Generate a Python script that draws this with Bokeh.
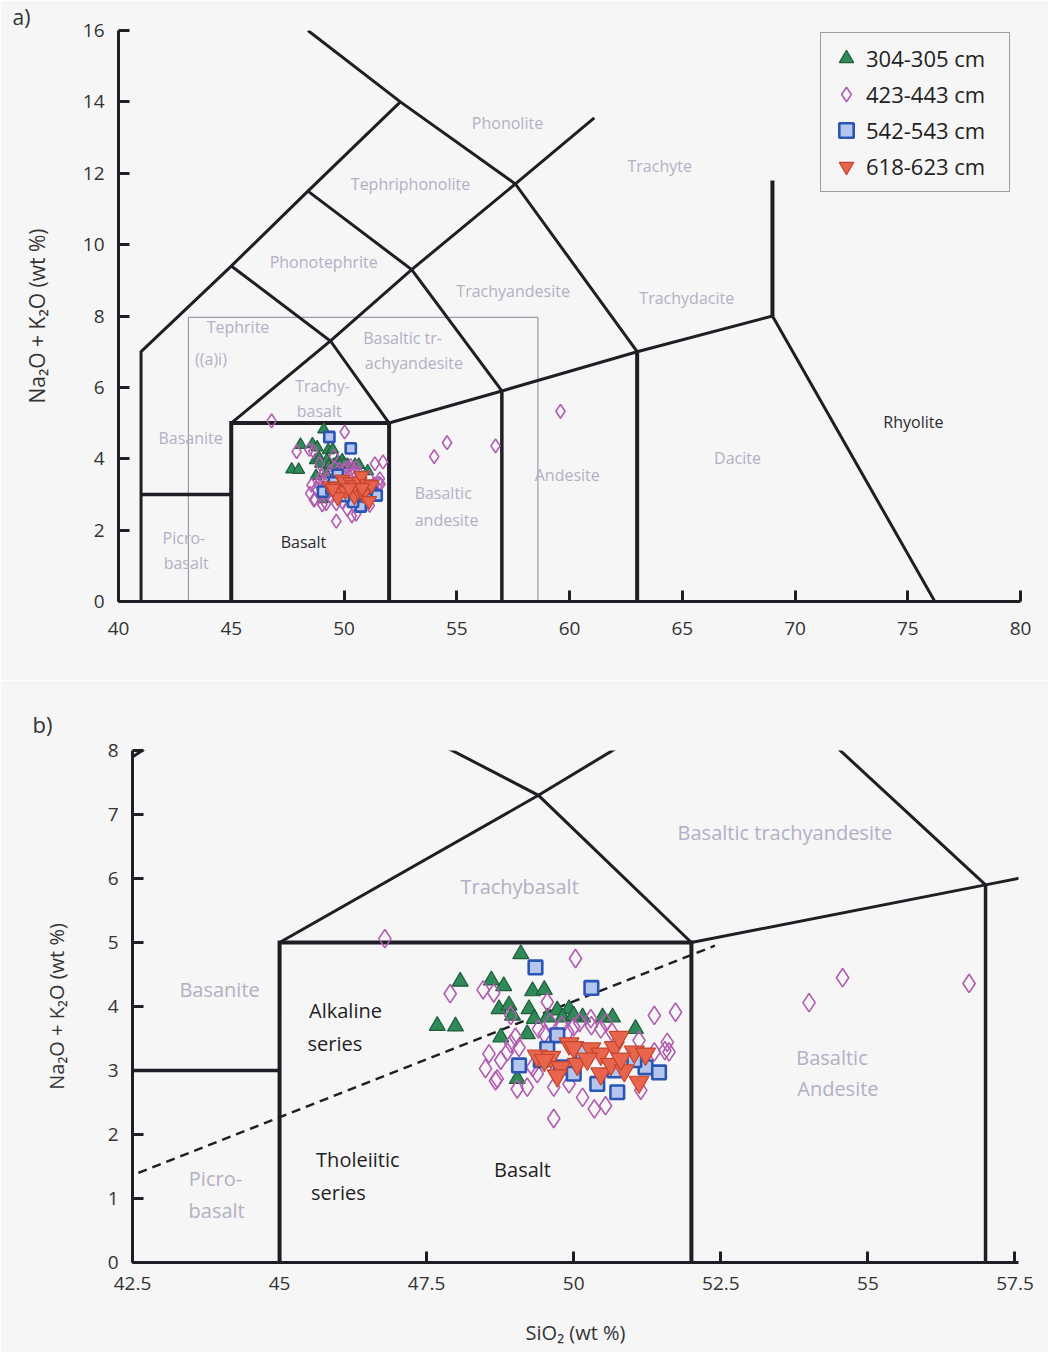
from bokeh.plotting import figure
from bokeh.models import Legend, LegendItem, Title, FixedTicker, ColumnDataSource
from bokeh.core.properties import value
from bokeh.embed import file_html
from bokeh.resources import INLINE

FONT = "Open Sans"
BG = "#f6f6f6"
INK = "#1e1e24"
FIELD_GREY = "#b2b0c4"

# ---- tephra glass analyses: SiO2 and Na2O+K2O (wt %) ----
g304_sio2 = [49.10, 48.07, 48.60, 48.81, 49.30, 49.50, 47.68, 47.99, 48.73, 48.90,
             49.24, 48.76, 48.96, 49.72, 49.92, 49.81, 50.15, 50.49, 50.66, 51.05,
             49.33, 49.21, 49.04, 49.55, 50.00]
g304_alk = [4.82, 4.39, 4.41, 4.32, 4.24, 4.26, 3.70, 3.69, 3.96, 4.02,
            3.96, 3.52, 3.86, 3.94, 3.96, 3.83, 3.83, 3.83, 3.83, 3.65,
            3.81, 3.57, 2.87, 3.83, 3.86]

g423_sio2 = [46.79, 50.03, 47.90, 48.46, 48.64, 49.55, 51.37, 51.73, 48.93, 51.59,
             51.62, 51.37, 51.11, 48.56, 48.76, 48.50, 48.70, 49.01, 49.07, 48.87,
             49.04, 49.21, 49.66, 49.92, 50.15, 50.35, 49.66, 51.14, 50.29, 49.50,
             50.00, 50.46, 49.38, 49.30, 48.93, 48.67, 50.54, 51.55, 49.60, 49.80,
             50.10, 50.30, 50.55, 49.40, 49.90, 50.65, 54.00, 54.57, 56.72, 59.60]
g423_alk = [5.06, 4.75, 4.20, 4.26, 4.21, 4.07, 3.86, 3.91, 3.86, 3.44,
            3.29, 3.29, 3.47, 3.26, 3.16, 3.03, 2.87, 3.52, 3.36, 3.29,
            2.71, 2.74, 2.74, 2.79, 2.58, 2.40, 2.25, 2.69, 3.81, 3.57,
            3.68, 3.65, 2.95, 3.05, 3.42, 2.84, 2.45, 3.31, 3.75, 3.70,
            3.75, 3.70, 3.75, 3.65, 3.60, 3.60, 4.06, 4.45, 4.36, 5.33]

g542_sio2 = [49.35, 50.30, 49.07, 49.72, 49.55, 50.15, 50.74, 50.40, 51.22, 51.45,
             49.78, 50.69, 51.03, 50.00, 49.44]
g542_alk = [4.61, 4.29, 3.08, 3.55, 3.34, 3.29, 2.66, 2.79, 3.05, 2.97,
            3.05, 3.00, 3.16, 2.95, 3.16]

g618_sio2 = [49.38, 49.61, 49.92, 50.00, 50.29, 50.46, 50.69, 50.77, 51.03, 51.22,
             49.78, 50.06, 50.46, 50.63, 50.86, 51.11, 49.72, 50.80, 50.23, 49.50]
g618_alk = [3.23, 3.21, 3.42, 3.36, 3.34, 3.26, 3.36, 3.52, 3.29, 3.26,
            3.05, 3.10, 2.95, 3.10, 3.00, 2.82, 2.92, 3.18, 3.18, 3.16]

group_labels = ["304-305 cm", "423-443 cm", "542-543 cm", "618-623 cm"]

# ---- TAS field boundaries (Le Bas et al. 1986) ----
tas_xs = [
    [41, 41, 45, 48.4, 52.5],
    [41, 45],
    [48.4, 52.5, 57.6, 63],
    [45, 49.4, 52],
    [48.4, 53, 57],
    [45, 49.4, 53, 57.6, 61.1],
    [52, 57, 63, 69, 76.2],
    [45, 45, 52, 52],
    [57, 57],
    [63, 63],
    [69, 69],
]
tas_ys = [
    [0, 7, 9.4, 11.5, 14],
    [3, 3],
    [16, 14, 11.7, 7],
    [9.4, 7.3, 5],
    [11.5, 9.3, 5.9],
    [5, 7.3, 9.3, 11.7, 13.55],
    [5, 5.9, 7, 8, 0],
    [0, 5, 5, 0],
    [0, 5.9],
    [0, 7],
    [8, 11.8],
]
tas_widths = [3, 3.5, 3, 3, 3, 3, 3, 4, 3.5, 4, 4]

# alkaline / sub-alkaline divide
divide_x = [42.6, 52.4]
divide_y = [1.40, 4.95]

# extent of the enlarged panel
inset_x = [43.1, 43.1, 58.6, 58.6]
inset_y = [0, 7.96, 7.96, 0]

# field names, panel a
a_grey_names = ["Phonolite", "Trachyte", "Tephriphonolite", "Phonotephrite",
                "Trachyandesite", "Trachydacite", "Tephrite", "((a)i)",
                "Basaltic tr-", "achyandesite", "Trachy-", "basalt", "Basanite",
                "Basaltic", "andesite", "Andesite", "Dacite", "Picro-", "basalt"]
a_grey_x = [57.25, 64.0, 52.95, 49.1, 57.5, 65.2, 45.3, 44.1,
            52.6, 53.1, 49.05, 48.9, 43.2,
            54.4, 54.55, 59.9, 67.45, 42.9, 43.0]
a_grey_y = [13.4, 12.2, 11.7, 9.5, 8.7, 8.5, 7.7, 6.8,
            7.37, 6.68, 6.03, 5.33, 4.58,
            3.04, 2.29, 3.55, 4.02, 1.79, 1.09]
a_dark_names = ["Rhyolite", "Basalt"]
a_dark_x = [75.25, 48.2]
a_dark_y = [5.03, 1.68]

# field names, panel b
b_grey_names = ["Basaltic trachyandesite", "Trachybasalt", "Basanite",
                "Basaltic", "Andesite", "Picro-", "basalt"]
b_grey_x = [53.59, 49.08, 43.98, 54.39, 54.49, 43.91, 43.93]
b_grey_y = [6.72, 5.875, 4.27, 3.20, 2.72, 1.31, 0.81]
b_dark_names = ["Alkaline", "series", "Tholeiitic", "series", "Basalt"]
b_dark_x = [46.12, 45.94, 46.33, 46.0, 49.13]
b_dark_y = [3.94, 3.42, 1.61, 1.09, 1.45]


def style(p, xticks, yticks, xstand, ystand, ylabel_size, ylabel_stand):
    p.background_fill_color = BG
    p.border_fill_color = BG
    p.outline_line_color = None
    p.grid.visible = False
    for ax in (p.xaxis[0], p.yaxis[0]):
        ax.axis_line_width = 3
        ax.axis_line_color = INK
        ax.major_tick_line_width = 3
        ax.major_tick_line_color = INK
        ax.major_tick_in = 11
        ax.major_tick_out = 0
        ax.minor_tick_line_color = None
        ax.major_label_text_font = FONT
        ax.major_label_text_font_size = "19px"
        ax.major_label_text_color = "#333333"
        ax.axis_label_text_font = FONT
        ax.axis_label_text_font_size = "20px"
        ax.axis_label_text_font_style = "normal"
        ax.axis_label_text_color = "#333333"
    p.xaxis[0].ticker = FixedTicker(ticks=xticks)
    p.yaxis[0].ticker = FixedTicker(ticks=yticks)
    p.xaxis[0].major_label_standoff = xstand
    p.yaxis[0].major_label_standoff = ystand
    p.yaxis[0].axis_label = "Na\u2082O + K\u2082O (wt %)"
    p.yaxis[0].axis_label_text_font_size = ylabel_size
    p.yaxis[0].axis_label_standoff = ylabel_stand


def panel_tag(p, text, shift, size, gap):
    p.add_layout(Title(text=text, align="left", offset=shift, standoff=gap,
                       text_font=FONT, text_font_size=size,
                       text_font_style="normal", text_color="#333333"),
                 "above")


def field_text(p, names, xs, ys, color, size):
    src = ColumnDataSource(dict(x=xs, y=ys, t=names))
    p.text("x", "y", text="t", source=src, text_font=value(FONT),
           text_font_size=size, text_color=color, text_align="center",
           text_baseline="middle")


def samples(p, s):
    r1 = p.scatter(g304_sio2, g304_alk, marker="triangle", size=s * 1.0,
                   fill_color="#2f8a57", line_color="#1e5c3a", line_width=1.2)
    r2 = p.scatter(g423_sio2, g423_alk, marker="diamond", size=s * 1.15,
                   fill_color=None, line_color="#b25cb0", line_width=1.6)
    r3 = p.scatter(g542_sio2, g542_alk, marker="square", size=s * 0.85,
                   fill_color="#b4c6ee", line_color="#2a55b4", line_width=2.6)
    r4 = p.scatter(g618_sio2, g618_alk, marker="inverted_triangle", size=s * 1.25,
                   fill_color="#e8644c", line_color="#c4442e", line_width=1.2)
    return [r1, r2, r3, r4]


# ---------------- panel a: full TAS diagram ----------------
pa = figure(width=1048, height=680, x_range=(40, 80), y_range=(0, 16),
            output_backend="svg", toolbar_location=None,
            min_border_left=118, min_border_right=28,
            min_border_top=28, min_border_bottom=79)
style(pa, [40, 45, 50, 55, 60, 65, 70, 75, 80], list(range(0, 17, 2)),
      20, 14, "21px", 29)

pa.line(inset_x, inset_y, line_color="#9a9aaa", line_width=1.2)
pa.multi_line(tas_xs, tas_ys, line_color=INK, line_width=tas_widths,
              line_join="miter")
field_text(pa, a_grey_names, a_grey_x, a_grey_y, FIELD_GREY, "16px")
field_text(pa, a_dark_names, a_dark_x, a_dark_y, "#2a2a30", "16px")
rs = samples(pa, 12)

# legend box pinned near the upper right corner of the frame
legend = Legend(items=[LegendItem(label=lab, renderers=[r])
                       for lab, r in zip(group_labels, rs)],
                location=(702, 409), margin=0, padding=7, spacing=0,
                label_height=36, glyph_height=36, glyph_width=36,
                label_width=136, label_standoff=2,
                label_text_font=FONT, label_text_font_size="22px",
                label_text_color="#222222",
                border_line_color="#444444", border_line_width=1.5,
                background_fill_color=BG, background_fill_alpha=1.0)
pa.add_layout(legend)
panel_tag(pa, "a)", -106, "21px", 0)

# ---------------- panel b: enlarged basalt region ----------------
pb = figure(width=1048, height=672, x_range=(42.5, 57.56), y_range=(0, 8),
            output_backend="svg", toolbar_location=None,
            min_border_left=132, min_border_right=30,
            min_border_top=70, min_border_bottom=90)
style(pb, [42.5, 45, 47.5, 50, 52.5, 55, 57.5], list(range(0, 9)),
      14, 14, "20px", 35)
pb.xaxis[0].major_label_overrides = {42.5: "42.5", 45: "45", 47.5: "47.5",
                                     50: "50", 52.5: "52.5", 55: "55",
                                     57.5: "57.5"}
pb.xaxis[0].axis_label = "SiO\u2082 (wt %)"
pb.xaxis[0].axis_label_standoff = 26

pb.multi_line(tas_xs, tas_ys, line_color=INK, line_width=tas_widths,
              line_join="miter")
pb.line(divide_x, divide_y, line_color=INK, line_width=2.5, line_dash="9 6")
field_text(pb, b_grey_names, b_grey_x, b_grey_y, FIELD_GREY, "20px")
field_text(pb, b_dark_names, b_dark_x, b_dark_y, "#1e1e24", "20px")
samples(pb, 16)
panel_tag(pb, "b)", -100, "22px", 24)

# two independent panels, stacked on the page
open("out.html", "w").write(file_html([pa, pb], INLINE))
